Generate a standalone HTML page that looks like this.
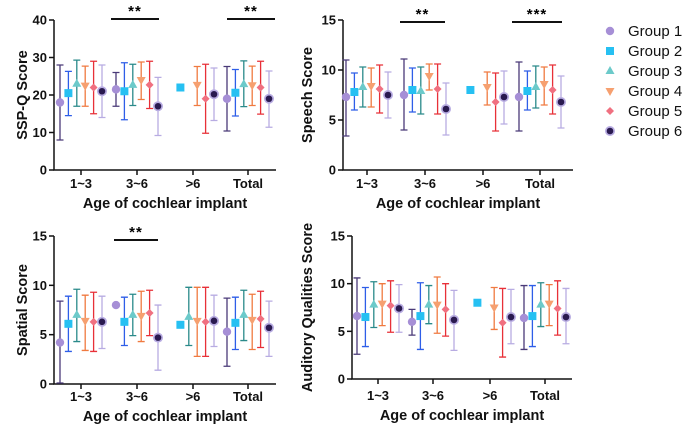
<!DOCTYPE html>
<html><head><meta charset="utf-8"><style>
body{margin:0;background:#fff;}
svg{display:block;font-family:"Liberation Sans",Arial,sans-serif;}
.tk{font-size:13px;font-weight:bold;fill:#111}
.at{font-size:14.5px;font-weight:bold;fill:#111}
.lg{font-size:15px;fill:#111}
</style></head><body>
<svg id="c" width="685" height="429" viewBox="0 0 685 429"></svg>
<script>
const categories=["1~3","3~6",">6","Total"];
const groups=["Group 1","Group 2","Group 3","Group 4","Group 5","Group 6"];
// SSP-Q
const sspMean=[[18,20.5,23,22.5,22,21],[21.5,21,22.7,24,22.7,17],[null,22,null,22.7,19,20.2],[19,20.6,22.9,22.6,22,19]];
const sspLo=[[8,14.5,17,17,15,14],[17,13.4,17.2,18.8,16.4,9.2],[null,null,null,17.2,9.8,13.2],[10.4,14.4,16.9,17.2,14.9,11.4]];
const sspHi=[[28,26.3,29.3,27.7,29,28],[26,28.6,28.2,28.8,29,24.7],[null,null,null,27.6,28.2,27.2],[27.6,26.8,29.1,27.7,29,26.4]];
const sspTicks=[0,10,20,30,40];
// Speech
const spMean=[[7.3,7.8,8.3,8.4,8.1,7.5],[7.5,8.0,7.9,9.4,8.1,6.1],[null,8.0,null,8.3,6.8,7.3],[7.3,7.9,8.3,8.6,8.0,6.8]];
const spLo=[[3.4,6.0,6.3,6.3,5.7,5.2],[4.0,5.8,5.6,8.0,5.6,3.5],[null,null,null,6.5,3.9,4.6],[3.9,6.0,6.2,6.5,5.6,4.2]];
const spHi=[[11,9.7,10.3,10.2,10.5,9.8],[11.1,10.2,10.3,10.6,10.6,8.7],[null,null,null,9.8,9.7,9.9],[10.8,9.9,10.4,10.3,10.5,9.4]];
const spTicks=[0,5,10,15];
// Spatial
const saMean=[[4.2,6.1,7.0,6.4,6.3,6.3],[8.0,6.3,7.0,6.9,7.2,4.7],[null,6.0,6.8,6.4,6.3,6.4],[5.3,6.2,7.0,6.5,6.6,5.7]];
const saLo=[[0.1,3.3,4.3,3.4,3.3,3.6],[null,3.9,4.9,4.3,4.9,1.4],[null,null,3.9,2.8,2.8,3.8],[1.8,3.5,4.4,3.5,3.7,2.8]];
const saHi=[[8.4,8.9,9.6,9.0,9.3,8.9],[null,8.8,9.1,9.4,9.5,8.0],[null,null,9.8,9.8,9.8,9.0],[8.7,8.8,9.5,9.1,9.4,8.4]];
// Auditory
const aqMean=[[6.6,6.5,7.8,7.9,7.7,7.4],[6.0,6.6,7.8,7.8,7.3,6.2],[null,8.0,null,7.5,5.9,6.5],[6.4,6.6,7.8,7.9,7.4,6.5]];
const aqLo=[[2.6,3.4,5.4,5.6,4.9,4.9],[4.6,3.1,5.8,4.8,4.5,3.0],[null,null,null,5.2,2.3,3.7],[3.1,3.4,5.5,5.6,4.6,3.7]];
const aqHi=[[10.6,9.6,10.2,10.0,10.3,9.9],[7.3,10.1,9.8,10.7,10.0,9.3],[null,null,null,9.6,9.5,9.4],[9.8,9.8,10.1,9.9,10.3,9.5]];

const NS="http://www.w3.org/2000/svg";
const svg=document.getElementById('c');
function mk(t,a,p){const e=document.createElementNS(NS,t);for(const k in a)e.setAttribute(k,a[k]);(p||svg).appendChild(e);return e;}
const barCol=["#4a3a78","#2e5ee8","#2a8a8a","#f07a40","#e83038","#b8ace2"];
const mCol=["#a68fd6","#26c0f2","#6ccaca","#f6a070","#f07080","#2a1a50"];
const offs=[-21,-12.6,-4.2,4.2,12.6,21];

const panels=[
 {name:"sspq",title:"SSP-Q Score",ax:54,axEnd:276,yb:170,yt:20,max:40,ticks:sspTicks,cx:[81,137,193,248],mean:sspMean,lo:sspLo,hi:sspHi,titleX:22,sig:[[111,159,"**"],[227,275,"**"]],sigY:19,xl:184,xt:203},
 {name:"speech",title:"Speech Score",ax:343,axEnd:573,yb:170,yt:20,max:15,ticks:spTicks,cx:[367,425,483,540],mean:spMean,lo:spLo,hi:spHi,titleX:307,sig:[[400,445,"**"],[512,562,"***"]],sigY:22,xl:184,xt:203},
 {name:"spatial",title:"Spatial Score",ax:54,axEnd:276,yb:384,yt:236,max:15,ticks:spTicks,cx:[81,137,193,248],mean:saMean,lo:saLo,hi:saHi,titleX:22,sig:[[114,158,"**"]],sigY:240,xl:397,xt:416},
 {name:"auditory",title:"Auditory Qualities Score",ax:352,axEnd:572,yb:379,yt:236,max:15,ticks:spTicks,cx:[378,433,490,545],mean:aqMean,lo:aqLo,hi:aqHi,titleX:307,sig:[],sigY:0,xl:396,xt:415}
];

function marker(g,x,y,i){
  let e;
  if(i===0)e=mk('circle',{cx:x,cy:y,r:4.2,fill:mCol[0]},g);
  else if(i===1)e=mk('rect',{x:x-4,y:y-4,width:8,height:8,fill:mCol[1]},g);
  else if(i===2)e=mk('polygon',{points:`${x},${y-5} ${x+4.5},${y+3} ${x-4.5},${y+3}`,fill:mCol[2]},g);
  else if(i===3)e=mk('polygon',{points:`${x},${y+5} ${x+4.5},${y-3} ${x-4.5},${y-3}`,fill:mCol[3]},g);
  else if(i===4)e=mk('polygon',{points:`${x},${y-4} ${x+4},${y} ${x},${y+4} ${x-4},${y}`,fill:mCol[4]},g);
  else {mk('circle',{cx:x,cy:y,r:5,fill:"#b8ace2"},g);e=mk('circle',{cx:x,cy:y,r:3.3,fill:mCol[5]},g);}
  return e;
}

panels.forEach(p=>{
  const g=mk('g',{});
  
  
  const Y=v=>p.yb-(v/p.max)*(p.yb-p.yt);
  const ax=mk('path',{d:`M${p.ax},${p.yt}V${p.yb}H${p.axEnd}`,stroke:"#111","stroke-width":1.5,fill:"none"},g);
  
  
  p.ticks.forEach(t=>{
    mk('line',{x1:p.ax-5,x2:p.ax,y1:Y(t),y2:Y(t),stroke:"#111","stroke-width":1.5},g);
    const tx=mk('text',{x:p.ax-7,y:Y(t)+4.5,"text-anchor":"end",class:"tk"},g);
    tx.textContent=t;
    
    
  });
  categories.forEach((c,ci)=>{
    const cx=p.cx[ci];
    mk('line',{x1:cx,x2:cx,y1:p.yb,y2:p.yb+5,stroke:"#111","stroke-width":1.5},g);
    const tx=mk('text',{x:cx,y:p.xl+4,"text-anchor":"middle",class:"tk"},g);
    tx.textContent=c;
    
    
    for(let i=0;i<6;i++){
      const m=p.mean[ci][i]; if(m==null)continue;
      const x=cx+offs[i];
      const lo=p.lo[ci][i],hi=p.hi[ci][i];
      if(lo!=null&&hi!=null){
        const eb=mk('path',{d:`M${x},${Y(lo)}V${Y(hi)}M${x-3.5},${Y(lo)}H${x+3.5}M${x-3.5},${Y(hi)}H${x+3.5}`,stroke:barCol[i],"stroke-width":1.3,fill:"none"},g);
        
        
      }
      const mkr=marker(g,x,Y(m),i);
      
      
    }
  });
  const xt=mk('text',{x:(p.ax+p.axEnd)/2,y:p.xt+5,"text-anchor":"middle",class:"at"},g);
  xt.textContent="Age of cochlear implant";
  
  
  const ty=(p.yt+p.yb)/2;
  const yt=mk('text',{x:p.titleX,y:ty,"text-anchor":"middle",class:"at",transform:`rotate(-90 ${p.titleX} ${ty})`,dy:5},g);
  yt.textContent=p.title;
  
  
  p.sig.forEach(s=>{
    const l=mk('line',{x1:s[0],x2:s[1],y1:p.sigY,y2:p.sigY,stroke:"#111","stroke-width":2},g);
    
    
    const st=mk('text',{x:(s[0]+s[1])/2,y:p.sigY-3,"text-anchor":"middle",style:"font-size:15px;font-weight:bold;letter-spacing:1px"},g);
    st.textContent=s[2];
    
    
  });
});

const lgG=mk('g',{});


groups.forEach((gname,i)=>{
  const y=31+i*20;
  const e=mk('g',{},lgG);
  
  
  marker(e,610,y,i);
  const t=mk('text',{x:628,y:y+5,class:"lg"},e);
  t.textContent=gname;
});
</script>
</body></html>
